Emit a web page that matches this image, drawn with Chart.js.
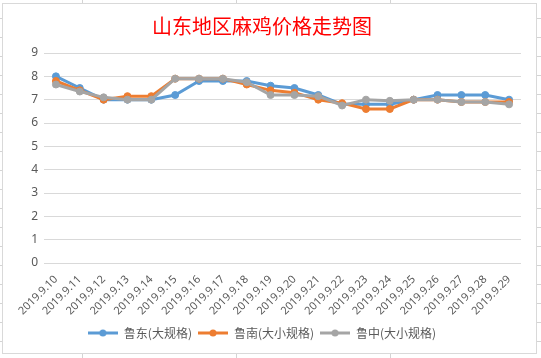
<!DOCTYPE html>
<html>
<head>
<meta charset="utf-8">
<script src="https://cdn.jsdelivr.net/npm/chart.js@4.4.1/dist/chart.umd.min.js"></script>
<style>
  html, body { margin: 0; padding: 0; }
  body {
    width: 541px; height: 358px; overflow: hidden; position: relative;
    background-color: #fff;
    background-image:
      repeating-linear-gradient(to right, transparent 0, transparent 82px, #d4d4d4 82px, #d4d4d4 83px, transparent 83px, transparent 154px),
      repeating-linear-gradient(to bottom, transparent 0, transparent 18px, #d4d4d4 18px, #d4d4d4 19px);
  }
  #frame {
    position: absolute; left: 2px; top: 3px; width: 535px; height: 351px;
    background: #fff; border: 1px solid #d9d9d9; box-sizing: border-box;
  }
</style>
</head>
<body>
<div id="frame"><canvas id="chart"></canvas></div>
<script>
  // 山东地区麻鸡价格 — values
  const dates = [
    '2019.9.10', '2019.9.11', '2019.9.12', '2019.9.13', '2019.9.14',
    '2019.9.15', '2019.9.16', '2019.9.17', '2019.9.18', '2019.9.19',
    '2019.9.20', '2019.9.21', '2019.9.22', '2019.9.23', '2019.9.24',
    '2019.9.25', '2019.9.26', '2019.9.27', '2019.9.28', '2019.9.29',
  ];
  const ludong = [8.0, 7.5, 7.0, 7.0, 7.0, 7.2, 7.8, 7.8, 7.8, 7.6,
                  7.5, 7.2, 6.8, 6.8, 6.8, 7.0, 7.2, 7.2, 7.2, 7.0];
  const lunan = [7.8, 7.4, 7.0, 7.15, 7.15, 7.9, 7.9, 7.9, 7.65, 7.4,
                 7.3, 7.0, 6.85, 6.6, 6.6, 7.0, 7.0, 6.9, 6.9, 6.9];
  const luzhong = [7.65, 7.35, 7.1, 7.0, 7.0, 7.9, 7.9, 7.9, 7.75, 7.2,
                   7.2, 7.15, 6.75, 7.0, 6.95, 7.0, 7.0, 6.9, 6.9, 6.8];
  const seriesNames = ['鲁东(大规格)', '鲁南(大小规格)', '鲁中(大小规格)'];
  const yTicks = [0, 1, 2, 3, 4, 5, 6, 7, 8, 9];

  const BLUE = '#5B9BD5';
  const ORANGE = '#ED7D31';
  const GREY = '#A5A5A5';
  const TEXT = '#595959';
  const GRID = '#d9d9d9';

  // little "line with a dot" swatch like Excel's legend
  function swatch(color) {
    const c = document.createElement('canvas');
    c.width = 30; c.height = 10;
    const g = c.getContext('2d');
    g.strokeStyle = color; g.lineWidth = 3;
    g.beginPath(); g.moveTo(0, 5); g.lineTo(30, 5); g.stroke();
    g.fillStyle = color;
    g.beginPath(); g.arc(15, 5, 3.5, 0, Math.PI * 2); g.fill();
    return c;
  }

  function series(label, data, color, order) {
    return {
      label, data, order,
      borderColor: color,
      backgroundColor: color,
      borderWidth: 3,
      pointRadius: 3.5,
      pointBorderWidth: 1,
      pointBackgroundColor: color,
      pointBorderColor: color,
      tension: 0,
      legendSwatch: swatch(color),
    };
  }

  new Chart(document.getElementById('chart'), {
    type: 'line',
    data: {
      labels: dates,
      datasets: [
        series(seriesNames[0], ludong, BLUE, 3),
        series(seriesNames[1], lunan, ORANGE, 2),
        series(seriesNames[2], luzhong, GREY, 1),
      ],
    },
    options: {
      responsive: true,
      maintainAspectRatio: false,
      animation: false,
      layout: { padding: { left: 0, right: 15, top: 0, bottom: 4 } },
      plugins: {
        title: {
          display: true,
          text: '山东地区麻鸡价格走势图',
          color: '#FF0000',
          font: { family: "'Noto Sans CJK SC', sans-serif", size: 20, weight: 'normal' },
          padding: { top: 10, bottom: 15 },
        },
        legend: {
          position: 'bottom',
          labels: {
            color: TEXT,
            font: { family: "'Noto Sans CJK SC', sans-serif", size: 12 },
            usePointStyle: true,
            pointStyleWidth: 30,
            padding: 6,
            generateLabels(chart) {
              const items = Chart.defaults.plugins.legend.labels.generateLabels(chart);
              items.forEach(it => { it.pointStyle = chart.data.datasets[it.datasetIndex].legendSwatch; });
              return items.sort((a, b) => a.datasetIndex - b.datasetIndex);
            },
          },
        },
        tooltip: { enabled: false },
      },
      scales: {
        x: {
          offset: true,
          grid: { display: false },
          border: { display: false },
          ticks: {
            color: TEXT,
            font: { family: "'Noto Sans', sans-serif", size: 11 },
            minRotation: 45, maxRotation: 45,
            autoSkip: false,
            padding: 2,
          },
          afterFit(scale) { scale.height = 58; },
        },
        y: {
          min: 0, max: 9,
          afterBuildTicks(scale) { scale.ticks = yTicks.map(v => ({ value: v })); },
          grid: { color: GRID, lineWidth: 1, drawTicks: false },
          border: { display: false },
          ticks: {
            color: TEXT,
            font: { family: "'Noto Sans', sans-serif", size: 12 },
            padding: 6,
          },
          afterFit(scale) { scale.width = 41; },
        },
      },
    },
  });
</script>
</body>
</html>
